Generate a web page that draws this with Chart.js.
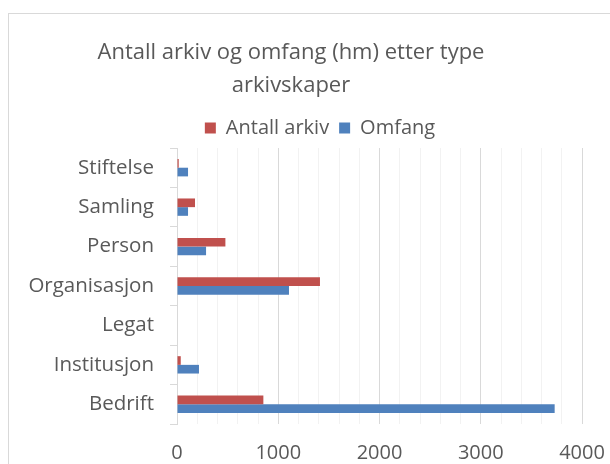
<!DOCTYPE html>
<html>
<head>
<meta charset="utf-8">
<script src="https://cdn.jsdelivr.net/npm/chart.js@4/dist/chart.umd.min.js"></script>
<style>
html,body{margin:0;padding:0;background:#fff;}
#wrap{width:610px;height:464px;position:relative;}
</style>
</head>
<body>
<div id="wrap"><canvas id="c" width="610" height="464"></canvas></div>
<script>
const categories = ['Stiftelse', 'Samling', 'Person', 'Organisasjon', 'Legat', 'Institusjon', 'Bedrift'];
const antallArkiv = [17, 178, 478, 1412, 0, 37, 853];
const omfang = [109, 109, 287, 1106, 0, 217, 3730];
const xTicks = [0, 1000, 2000, 3000, 4000];
const titleLines = ['Antall arkiv og omfang (hm) etter type', 'arkivskaper'];

const FONT = "'Open Sans', 'Noto Sans', sans-serif";
const TXT = '#595959';

const framePlugin = {
  id: 'frame',
  beforeDraw(chart) {
    const ctx = chart.ctx;
    ctx.save();
    ctx.fillStyle = '#ffffff';
    ctx.fillRect(0, 0, chart.width, chart.height);
    ctx.strokeStyle = '#d9d9d9';
    ctx.lineWidth = 1;
    ctx.strokeRect(8.5, 13.5, chart.width + 20, chart.height + 20);
    ctx.restore();
  },
  afterLayout(chart) {
    const lg = chart.legend;
    if (lg) { lg.left += 29; lg.right += 29; }
  }
};

new Chart(document.getElementById('c'), {
  type: 'bar',
  data: {
    labels: categories,
    datasets: [
      { label: 'Antall arkiv', data: antallArkiv, backgroundColor: '#C0504D', borderWidth: 0 },
      { label: 'Omfang', data: omfang, backgroundColor: '#4F81BD', borderWidth: 0 }
    ]
  },
  options: {
    indexAxis: 'y',
    responsive: false,
    animation: false,
    devicePixelRatio: 1,
    categoryPercentage: 0.44,
    barPercentage: 1,
    layout: { padding: { left: 0, right: 28, top: 0, bottom: 0 } },
    plugins: {
      title: {
        display: true,
        text: titleLines,
        color: TXT,
        font: { family: FONT, size: 22, weight: 'normal', lineHeight: 1.5 },
        padding: { top: 36, bottom: 6 }
      },
      legend: {
        display: true,
        position: 'top',
        labels: {
          color: TXT,
          font: { family: FONT, size: 20 },
          boxWidth: 11,
          boxHeight: 11,
          padding: 10
        }
      },
      tooltip: { enabled: false }
    },
    scales: {
      x: {
        min: 0,
        max: 4000,
        afterFit(s) { s.height = 40; s.paddingLeft = 0; s.paddingRight = 0; },
        afterBuildTicks(s) {
          const t = [];
          for (let v = 0; v <= 4000; v += 200) t.push({ value: v });
          s.ticks = t;
        },
        ticks: {
          autoSkip: false,
          maxRotation: 0,
          color: TXT,
          padding: 17,
          font: { family: FONT, size: 20 },
          callback(v) { return xTicks.includes(v) ? String(v) : ''; }
        },
        grid: {
          drawTicks: false,
          color(ctx) { return (ctx.tick && ctx.tick.value % 1000 === 0) ? '#d9d9d9' : '#f2f2f2'; },
          lineWidth: 1
        },
        border: { display: false }
      },
      y: {
        afterFit(s) { s.width = 177; },
        ticks: {
          color: TXT,
          padding: 16,
          font: { family: FONT, size: 20.5 }
        },
        grid: {
          offset: true,
          drawOnChartArea: false,
          drawTicks: true,
          tickLength: 7,
          color: '#d9d9d9'
        },
        border: { display: true, color: '#d9d9d9' }
      }
    }
  },
  plugins: [framePlugin]
});
</script>
</body>
</html>
